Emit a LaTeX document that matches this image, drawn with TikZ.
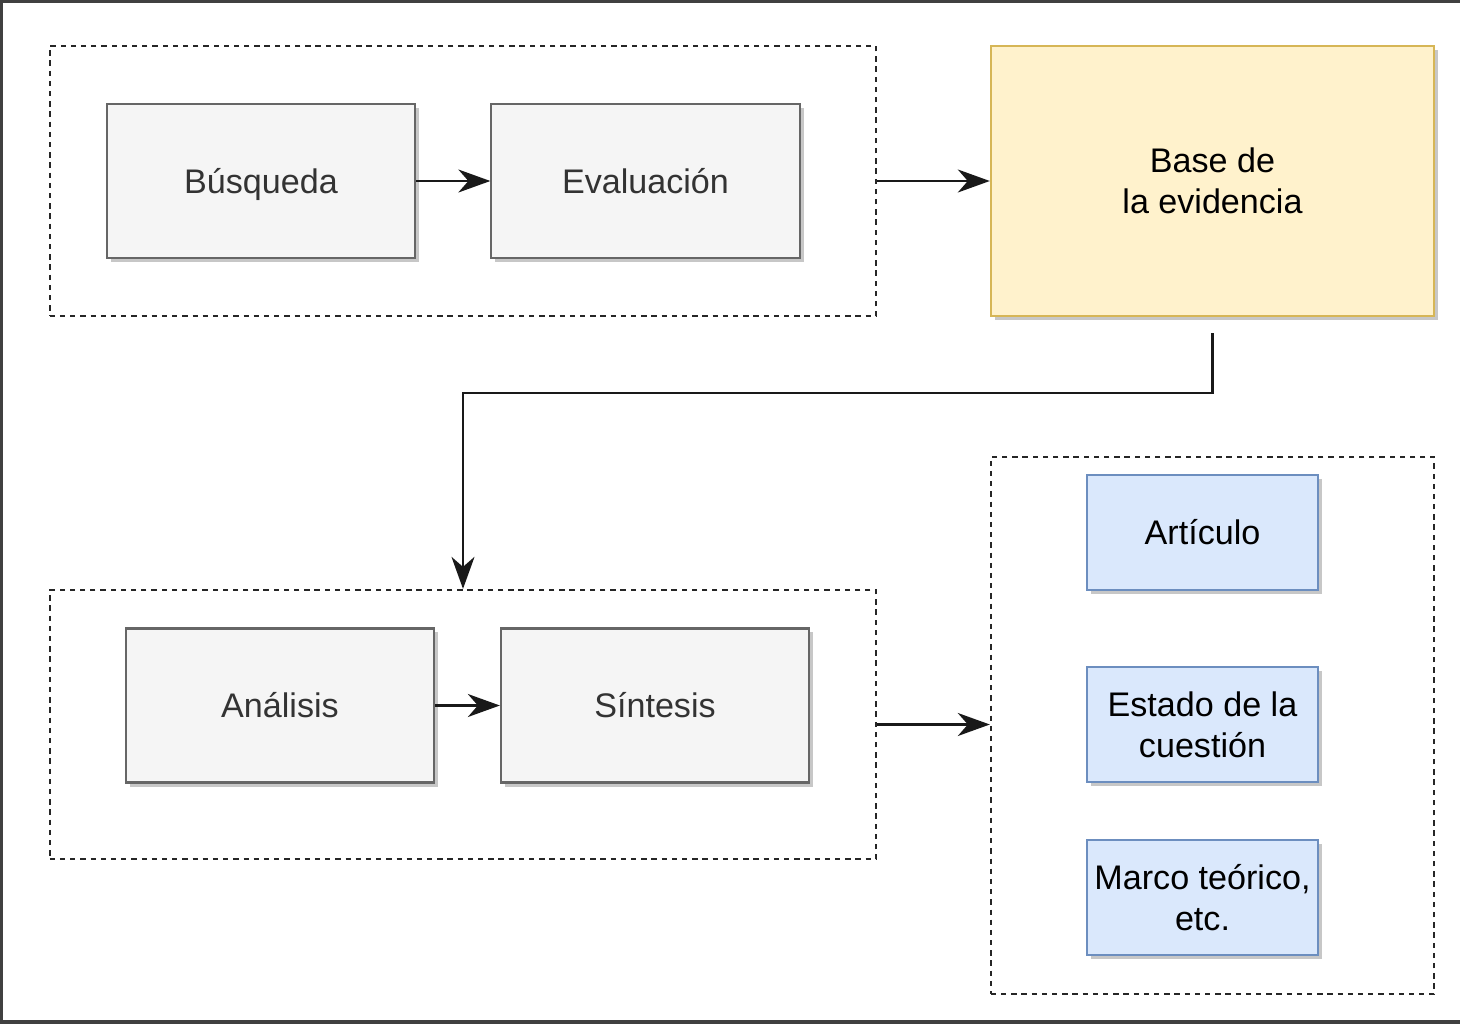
\documentclass[tikz,border=0pt]{standalone}
\usepackage{fontspec}
\setmainfont{Liberation Sans}
\usetikzlibrary{arrows.meta,positioning,shadows}

\definecolor{stagefill}{HTML}{F5F5F5}
\definecolor{stageline}{HTML}{666666}
\definecolor{stagetext}{HTML}{333333}
\definecolor{basefill}{HTML}{FFF2CC}
\definecolor{baseline}{HTML}{D6B656}
\definecolor{outfill}{HTML}{DAE8FC}
\definecolor{outline}{HTML}{6C8EBF}

\begin{document}
\begin{tikzpicture}[
    x=0.01cm, y=-0.01cm,
    font=\fontsize{9.7pt}{11.7pt}\selectfont,
    boxshadow/.style={drop shadow={shadow xshift=0.04cm, shadow yshift=-0.04cm,
        fill=black, opacity=0.22}},
    stage/.style={rectangle, draw=stageline, fill=stagefill, text=stagetext,
        line width=0.6pt, minimum width=3.08cm, minimum height=1.54cm,
        text height=0.9em, text depth=0.2em, boxshadow},
    base/.style={rectangle, draw=baseline, fill=basefill, line width=0.6pt,
        minimum width=4.43cm, minimum height=2.7cm, align=center, boxshadow},
    output/.style={rectangle, draw=outline, fill=outfill, line width=0.6pt,
        minimum width=2.31cm, minimum height=1.15cm, align=center,
        inner sep=1pt, boxshadow},
    group/.style={rectangle, draw=black!85, dash pattern=on 1.5pt off 1.4pt,
        line width=0.6pt},
    link/.style={draw=black!90, line width=0.6pt,
        -{Stealth[length=0.32cm, width=0.23cm, inset=0.1cm]}},
    frame/.style={draw=black!75, line width=1pt}
]
\useasboundingbox (0,0) rectangle (1460,1024);
\draw[frame] (1460,1) -- (1,1) -- (1,1022) -- (1460,1022);

% first stage
\node (Group01) [group, minimum width=8.26cm, minimum height=2.7cm] at (463,181) {};
\node (Busqueda) [stage] at (261,181) {Búsqueda};
\node (Evaluacion) [stage] at (645.5,181) {Evaluación};

\node (Base) [base] at (1212.5,181) {Base de\\la evidencia};

% second stage
\node (Group02) [group, minimum width=8.26cm, minimum height=2.69cm] at (463,724.5) {};
\node (Analisis) [stage] at (280,705.5) {Análisis};
\node (Sintesis) [stage] at (655,705.5) {Síntesis};

% products
\node (Group03) [group, minimum width=4.43cm, minimum height=5.37cm] at (1212.5,725.5) {};
\node (Articulo) [output] at (1202.5,532.5) {Artículo};
\node (Estado) [output] at (1202.5,724.5) {Estado de la\\cuestión};
\node (Marco) [output] at (1202.5,897.5) {Marco teórico,\\etc.};

\coordinate (BaseOut) at ([yshift=-0.16cm]Base.south);

\draw[link] (Busqueda) -- (Evaluacion);
\draw[link] (Analisis) -- (Sintesis);
\draw[link] (Group01) -- (Base);
\draw[link] (BaseOut) -- ++(0,60) -| (Group02.north);
\draw[link] (Group02.east) -- (Group02.east -| Group03.west);

\end{tikzpicture}
\end{document}
